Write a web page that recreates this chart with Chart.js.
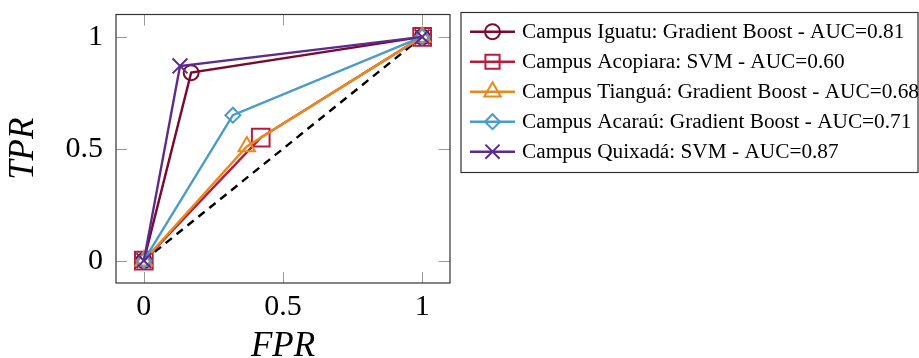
<!DOCTYPE html>
<html>
<head>
<meta charset="utf-8">
<script src="https://cdn.jsdelivr.net/npm/chart.js@4/dist/chart.umd.min.js"></script>
<style>
  html, body { margin: 0; padding: 0; background: #fff; }
</style>
</head>
<body>
<canvas id="roc" width="919" height="358"></canvas>
<script>
// ROC curves per campus (best model each)
const SERIF = "'Liberation Serif', 'Times New Roman', serif";

const campusNames = [
  'Campus Iguatu: Gradient Boost - AUC=0.81',
  'Campus Acopiara: SVM - AUC=0.60',
  'Campus Tianguá: Gradient Boost - AUC=0.68',
  'Campus Acaraú: Gradient Boost - AUC=0.71',
  'Campus Quixadá: SVM - AUC=0.87',
];
const iguatuFpr   = [0, 0.17, 1];
const iguatuTpr   = [0, 0.84, 1];
const acopiaraFpr = [0, 0.42, 1];
const acopiaraTpr = [0, 0.55, 1];
const tianguaFpr  = [0, 0.37, 1];
const tianguaTpr  = [0, 0.51, 1];
const acarauFpr   = [0, 0.32, 1];
const acarauTpr   = [0, 0.65, 1];
const quixadaFpr  = [0, 0.13, 1];
const quixadaTpr  = [0, 0.87, 1];
const chanceFpr   = [0, 1];
const chanceTpr   = [0, 1];
const tickValues  = [0, 0.5, 1];

const COLORS  = ['#7a0b2c', '#b81b3d', '#e8891f', '#4a9bcb', '#5b2b90'];
const MARKERS = ['circle', 'rect', 'triangle', 'rectRot', 'crossRot'];
const RADII   = [7.5, 12.5, 9.5, 7.5, 10.5];

const fprs = [iguatuFpr, acopiaraFpr, tianguaFpr, acarauFpr, quixadaFpr];
const tprs = [iguatuTpr, acopiaraTpr, tianguaTpr, acarauTpr, quixadaTpr];

const toPoints = (xs, ys) => xs.map((x, i) => ({ x, y: ys[i] }));

const datasets = campusNames.map((name, i) => ({
  label: name,
  data: toPoints(fprs[i], tprs[i]),
  showLine: true,
  borderColor: COLORS[i],
  borderWidth: 2.4,
  pointStyle: MARKERS[i],
  pointRadius: RADII[i],
  pointHoverRadius: RADII[i],
  pointBorderColor: COLORS[i],
  pointBackgroundColor: 'rgba(0,0,0,0)',
  pointBorderWidth: 2,
  order: campusNames.length - i,   // later series on top, like pgfplots
}));

datasets.push({
  label: '',
  data: toPoints(chanceFpr, chanceTpr),
  showLine: true,
  borderColor: '#000',
  borderWidth: 2.4,
  borderDash: [8, 6],
  pointRadius: 0,
  order: 10,
});

// frame + inward tick marks on all four sides
const frameTicks = {
  id: 'frameTicks',
  beforeDatasetsDraw(chart) {
    const { ctx, chartArea: a, scales } = chart;
    ctx.save();
    ctx.strokeStyle = '#9a9a9a';
    ctx.lineWidth = 1;
    const L = 11;
    tickValues.forEach(v => {
      const px = Math.round(scales.x.getPixelForValue(v)) + 0.5;
      const py = Math.round(scales.y.getPixelForValue(v)) + 0.5;
      ctx.beginPath();
      ctx.moveTo(px, a.bottom); ctx.lineTo(px, a.bottom - L);
      ctx.moveTo(px, a.top);    ctx.lineTo(px, a.top + L);
      ctx.moveTo(a.left, py);   ctx.lineTo(a.left + L, py);
      ctx.moveTo(a.right, py);  ctx.lineTo(a.right - L, py);
      ctx.stroke();
    });
    ctx.strokeStyle = '#333';
    ctx.lineWidth = 1.2;
    ctx.strokeRect(a.left, a.top, a.right - a.left, a.bottom - a.top);
    ctx.restore();
  },
};

// pgfplots-like legend box to the right of the axes
const sideLegend = {
  id: 'sideLegend',
  afterDraw(chart) {
    const { ctx } = chart;
    const box = { x: 461, y: 12.5, w: 457, h: 160 };
    ctx.save();
    ctx.strokeStyle = '#333';
    ctx.lineWidth = 1.2;
    ctx.strokeRect(box.x, box.y, box.w, box.h);
    ctx.font = `21.3px ${SERIF}`;
    ctx.textBaseline = 'middle';
    chart.data.datasets.forEach((ds, i) => {
      if (!ds.label) return;
      const y = 31.7 + i * 30;
      ctx.strokeStyle = ds.borderColor;
      ctx.lineWidth = ds.borderWidth;
      ctx.beginPath();
      ctx.moveTo(470, y); ctx.lineTo(515, y);
      ctx.stroke();
      ctx.fillStyle = 'rgba(0,0,0,0)';
      ctx.lineWidth = ds.pointBorderWidth;
      Chart.helpers.drawPoint(ctx, {
        pointStyle: ds.pointStyle, radius: Math.min(ds.pointRadius, 10), rotation: 0, borderWidth: ds.pointBorderWidth,
      }, 492.5, y);
      ctx.fillStyle = '#000';
      ctx.fillText(ds.label, 522, y + 1);
    });
    ctx.restore();
  },
};

new Chart(document.getElementById('roc'), {
  type: 'scatter',
  data: { datasets },
  options: {
    responsive: false,
    animation: false,
    devicePixelRatio: 1,
    layout: { padding: { top: 12, right: 469, left: 0, bottom: 0 } },
    plugins: { legend: { display: false }, tooltip: { enabled: false } },
    scales: {
      x: {
        type: 'linear', min: -0.1, max: 1.1,
        afterBuildTicks: a => { a.ticks = tickValues.map(v => ({ value: v })); },
        afterFit: a => { a.height = 75; a.paddingLeft = 0; a.paddingRight = 0; },
        grid: { display: false, drawTicks: false },
        border: { display: false },
        ticks: {
          padding: 6, color: '#000', maxRotation: 0,
          font: { family: SERIF, size: 30 },
          callback: v => String(v),
        },
        title: {
          display: true, text: 'FPR', color: '#000',
          font: { family: SERIF, size: 35, style: 'italic', lineHeight: 0.6 },
          padding: { top: 0, bottom: 1 },
        },
      },
      y: {
        type: 'linear', min: -0.1, max: 1.1,
        afterBuildTicks: a => { a.ticks = tickValues.map(v => ({ value: v })); },
        afterFit: a => { a.width = 116; a.paddingTop = 0; a.paddingBottom = 0; },
        grid: { display: false, drawTicks: false },
        border: { display: false },
        ticks: {
          padding: 13, color: '#000',
          font: { family: SERIF, size: 30 },
          callback: v => String(v),
        },
        title: {
          display: true, text: 'TPR', color: '#000',
          font: { family: SERIF, size: 35, style: 'italic', lineHeight: 1 },
          padding: { top: 6, bottom: 0 },
        },
      },
    },
  },
  plugins: [frameTicks, sideLegend],
});
</script>
</body>
</html>
